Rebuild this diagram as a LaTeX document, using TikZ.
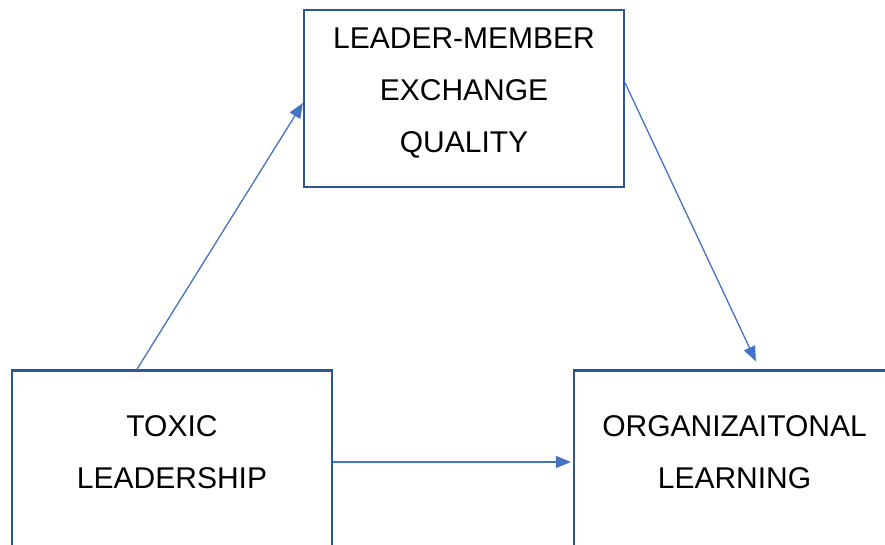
\documentclass[tikz,border=0pt]{standalone}
\usepackage{fontspec}
\setmainfont{Liberation Sans}
\usetikzlibrary{arrows.meta,calc}
\definecolor{boxblue}{HTML}{2F5597}
\definecolor{linkblue}{HTML}{4472C4}
\tikzset{
  construct/.style={draw=boxblue, line width=2.2pt, fill=white, inner sep=0pt},
  label/.style={font=\fontsize{30pt}{52pt}\selectfont, align=center, inner sep=0pt, anchor=base},
  link/.style={draw=linkblue, line width=1.3pt, -{Triangle[length=15pt,width=12pt]}}
}
\begin{document}
\begin{tikzpicture}[x=1pt,y=-1pt]
  \useasboundingbox (0,0) rectangle (885,545);
  \clip (0,0) rectangle (885,545);
  % the three constructs
  \node[construct, minimum width=320pt, minimum height=177pt] (lmx) at (464,98.5) {};
  \node[construct, minimum width=320pt, minimum height=190pt] (tox) at (172,465.5) {};
  \node[construct, minimum width=330pt, minimum height=190pt] (org) at (739,465.5) {};
  % their names (anchored on the baseline of the last line)
  \node[label] (lmxtext) at (464,153) {LEADER-MEMBER\\EXCHANGE\\QUALITY};
  \node[label] (toxtext) at (172,488) {TOXIC\\LEADERSHIP};
  \node[label] (orgtext) at (734.5,488) {ORGANIZAITONAL\\LEARNING};
  % paths between them
  \coordinate (orgtop) at ([xshift=183pt,yshift=8pt]org.north west);
  \coordinate (orgleft) at ([xshift=-2pt]org.west |- 0,462);
  \draw[link] ([xshift=126pt]tox.north west) -- (lmx.west |- 0,103);
  \draw[link] (lmx.east |- 0,83) -- (orgtop);
  \draw[link] (tox.east |- 0,462) -- (orgleft);
\end{tikzpicture}
\end{document}
